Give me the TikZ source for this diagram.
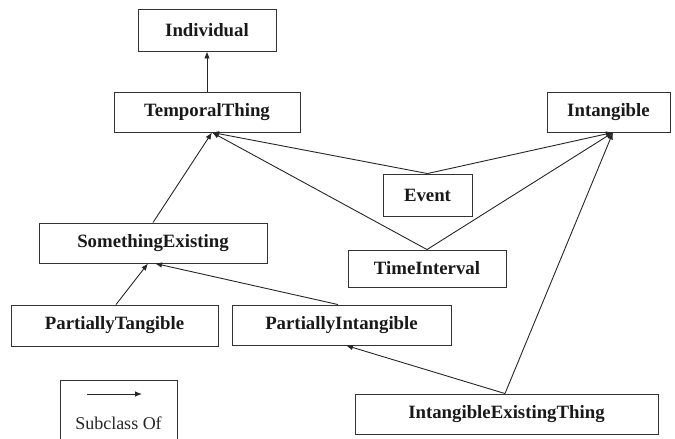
\documentclass[tikz,border=0pt]{standalone}
\usepackage{fontspec}
\setmainfont{Liberation Serif}
\usetikzlibrary{arrows.meta}
\tikzset{
  cls/.style={draw=black!80, line width=0.9pt, fill=white, inner sep=0pt,
    font=\fontsize{18.8}{22}\selectfont\bfseries, text=black!90},
  sub/.style={draw=black!85, line width=0.9pt, -{Latex[length=7pt,width=5.5pt]}},
  legendline/.style={draw=black!80, line width=0.9pt},
}
\begin{document}
\begin{tikzpicture}[x=1pt,y=-1pt]
\useasboundingbox (0,0) rectangle (675,439);
% classes
\node[cls, minimum width=138pt, minimum height=42pt] (ind) at (207,30) {Individual};
\node[cls, minimum width=186pt, minimum height=40pt] (tt) at (207,112) {TemporalThing};
\node[cls, minimum width=123pt, minimum height=40pt] (int) at (608.5,112) {Intangible};
\node[cls, minimum width=89pt, minimum height=42pt] (ev) at (427.5,195) {Event};
\node[cls, minimum width=158pt, minimum height=37pt] (ti) at (427,268.5) {TimeInterval};
\node[cls, minimum width=228pt, minimum height=40pt] (se) at (153,243) {SomethingExisting};
\node[cls, minimum width=207pt, minimum height=41pt] (pt) at (114.5,325.5) {PartiallyTangible};
\node[cls, minimum width=219pt, minimum height=40pt] (pi) at (341.5,325) {PartiallyIntangible};
\node[cls, minimum width=303pt, minimum height=40pt] (iet) at (506.5,414) {IntangibleExistingThing};
% subclass links
\draw[sub] (tt.north) -- (ind.south);
\draw[sub] (se.north) -- ([xshift=5pt]tt.south);
\draw[sub] (ev.north) -- ([xshift=5pt]tt.south);
\draw[sub] (ev.north) -- ([xshift=4.5pt]int.south);
\draw[sub] (ti.north) -- ([xshift=5pt]tt.south);
\draw[sub] (ti.north) -- ([xshift=4.5pt]int.south);
\draw[sub] ([xshift=1.5pt]pt.north) -- ([xshift=-5pt]se.south);
\draw[sub] ([xshift=-3.5pt]pi.north) -- ([xshift=2pt]se.south);
\draw[sub] ([xshift=-1.5pt]iet.north) -- ([xshift=4.5pt]pi.south);
\draw[sub] ([xshift=-1.5pt]iet.north) -- ([xshift=4.5pt]int.south);
% legend
\draw[legendline] (60,441) -- (60,380) -- (177,380) -- (177,441);
\coordinate (la) at (87,394);
\coordinate (lb) at (142,394);
\draw[sub] (la) -- (lb);
\node[font=\fontsize{18}{20}\selectfont, text=black!85] (lt) at (118.5,423) {Subclass Of};
\end{tikzpicture}
\end{document}
